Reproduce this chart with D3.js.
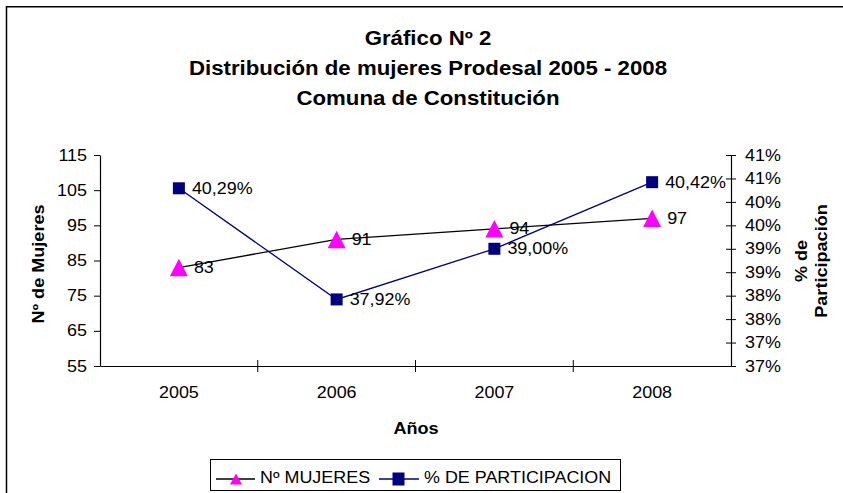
<!DOCTYPE html>
<html><head><meta charset="utf-8">
<script src="https://cdn.jsdelivr.net/npm/d3@7"></script>
<style>
body{margin:0;background:#fff}
svg{display:block}
text{font-family:"Liberation Sans",Arial,Helvetica,sans-serif;fill:#000}
</style>
</head><body>
<svg id="c" width="843" height="493"></svg>
<script>
// ---- data ----
const years = ["2005","2006","2007","2008"];
const mujeres = [83, 91, 94, 97];
const mujeresLabels = ["83","91","94","97"];
const participacion = [40.29, 37.92, 39.00, 40.42];
const participacionLabels = ["40,29%","37,92%","39,00%","40,42%"];
const leftTicks = [55, 65, 75, 85, 95, 105, 115];
const rightTicks = [36.5, 37, 37.5, 38, 38.5, 39, 39.5, 40, 40.5, 41];
const rightTickLabels = ["37%","37%","38%","38%","39%","39%","40%","40%","41%","41%"];
const titleLines = ["Gráfico Nº 2", "Distribución de mujeres Prodesal 2005 - 2008", "Comuna de Constitución"];
const seriesNames = ["Nº MUJERES", "% DE PARTICIPACION"];

// ---- layout ----
const L = 100, R = 731, T = 155, B = 366;
const svg = d3.select("#c");
const FS = 16, K = 1.12;
function stretch(sel, k){
  sel.each(function(){
    const l = this.getComputedTextLength();
    this.setAttribute("textLength", l * k);
    this.setAttribute("lengthAdjust", "spacingAndGlyphs");
  });
}

const x = d3.scaleBand().domain(years).range([L, R]);
const cx = d => x(d) + x.bandwidth() / 2;
const yL = d3.scaleLinear().domain([55, 115]).range([B, T]);
const yR = d3.scaleLinear().domain([36.5, 41]).range([B, T]);

// outer frame
svg.append("path").attr("d", "M6.5,493V6.75H843").attr("fill","none").attr("stroke","#000").attr("stroke-width",1.5);

// title
svg.append("g").selectAll("text").data(titleLines).join("text")
  .attr("x", 428).attr("y", (d,i) => 45 + i * 30)
  .attr("text-anchor","middle").attr("font-weight","bold").attr("font-size", 19.5)
  .text(d => d).call(stretch, 1.14);

// left axis
const gl = svg.append("g").attr("transform", `translate(${L},0)`)
  .call(d3.axisLeft(yL).tickValues(leftTicks).tickSize(6).tickSizeOuter(0).tickPadding(7));
// right axis
const gr = svg.append("g").attr("transform", `translate(${R},0)`)
  .call(d3.axisRight(yR).tickValues(rightTicks).tickFormat((d,i) => rightTickLabels[i]).tickSize(5).tickSizeOuter(0).tickPadding(9));
gr.selectAll(".tick line").attr("x1", -5).attr("x2", 5);
// bottom axis
const gb = svg.append("g").attr("transform", `translate(0,${B})`)
  .call(d3.axisBottom(x).tickSize(0).tickSizeOuter(0).tickPadding(21));
gb.selectAll(".tick line").remove();
gb.append("g").selectAll("line").data(years.slice(1)).join("line")
  .attr("x1", d => x(d)).attr("x2", d => x(d)).attr("y1", -6).attr("y2", 6).attr("stroke","#000");

[gl, gr, gb].forEach(g => {
  g.selectAll("path.domain").attr("stroke","#000").attr("stroke-width",1.2);
  g.selectAll(".tick line").attr("stroke","#000");
  g.selectAll("text").attr("font-size", FS).attr("font-family", '"Liberation Sans",Arial,sans-serif').attr("fill","#000").call(stretch, K);
});

// axis titles
svg.append("text").attr("x", 416).attr("y", 434).attr("text-anchor","middle")
  .attr("font-weight","bold").attr("font-size",16).text("Años").call(stretch, 1.13);
svg.append("text").attr("transform","translate(38,264) rotate(-90)").attr("dy","0.35em")
  .attr("text-anchor","middle").attr("font-weight","bold").attr("font-size",16).text("Nº de Mujeres").call(stretch, 1.13);
svg.append("text").attr("transform","translate(801,261) rotate(-90)").attr("dy","0.35em")
  .attr("text-anchor","middle").attr("font-weight","bold").attr("font-size",16).text("% de").call(stretch, 1.13);
svg.append("text").attr("transform","translate(821,261) rotate(-90)").attr("dy","0.35em")
  .attr("text-anchor","middle").attr("font-weight","bold").attr("font-size",16).text("Participación").call(stretch, 1.13);

// series
const tri = (w, h) => `M0,${-h/2}L${w/2},${h/2}L${-w/2},${h/2}Z`;
const lineM = d3.line().x((d,i) => cx(years[i])).y(d => yL(d));
const lineP = d3.line().x((d,i) => cx(years[i])).y(d => yR(d));

svg.append("path").datum(mujeres).attr("d", lineM).attr("fill","none").attr("stroke","#000").attr("stroke-width",1.3);
svg.append("path").datum(participacion).attr("d", lineP).attr("fill","none").attr("stroke","#000080").attr("stroke-width",1.3);

svg.append("g").selectAll("path").data(mujeres).join("path")
  .attr("transform", (d,i) => `translate(${cx(years[i])},${yL(d)})`)
  .attr("d", tri(18, 17.5)).attr("fill","#ff00ff");
svg.append("g").selectAll("rect").data(participacion).join("rect")
  .attr("x", (d,i) => cx(years[i]) - 6).attr("y", d => yR(d) - 6)
  .attr("width", 12).attr("height", 12).attr("fill","#000080");

// data labels
svg.append("g").selectAll("text").data(mujeres).join("text")
  .attr("x", (d,i) => cx(years[i]) + 15).attr("y", d => yL(d)).attr("dy","0.35em")
  .attr("font-size",FS).text((d,i) => mujeresLabels[i]).call(stretch, K);
svg.append("g").selectAll("text").data(participacion).join("text")
  .attr("x", (d,i) => cx(years[i]) + 13).attr("y", d => yR(d)).attr("dy","0.35em")
  .attr("font-size",FS).text((d,i) => participacionLabels[i]).call(stretch, K);

// legend
const lg = svg.append("g");
lg.append("rect").attr("x",210.5).attr("y",459.5).attr("width",410).attr("height",31)
  .attr("fill","#fff").attr("stroke","#000").attr("stroke-width",1);
const ly = 479;
lg.append("line").attr("x1",216).attr("x2",255).attr("y1",ly).attr("y2",ly).attr("stroke","#000").attr("stroke-width",1.3);
lg.append("path").attr("transform",`translate(236,${ly})`).attr("d", tri(12, 11)).attr("fill","#ff00ff");
lg.append("text").attr("x",260).attr("y",483).attr("font-size",FS).text(seriesNames[0]).call(stretch, K);
lg.append("line").attr("x1",379).attr("x2",419).attr("y1",ly).attr("y2",ly).attr("stroke","#000080").attr("stroke-width",1.3);
lg.append("rect").attr("x",392.5).attr("y",ly-6.5).attr("width",12).attr("height",13).attr("fill","#000080");
lg.append("text").attr("x",424).attr("y",483).attr("font-size",FS).text(seriesNames[1]).call(stretch, K);
</script>
</body></html>
